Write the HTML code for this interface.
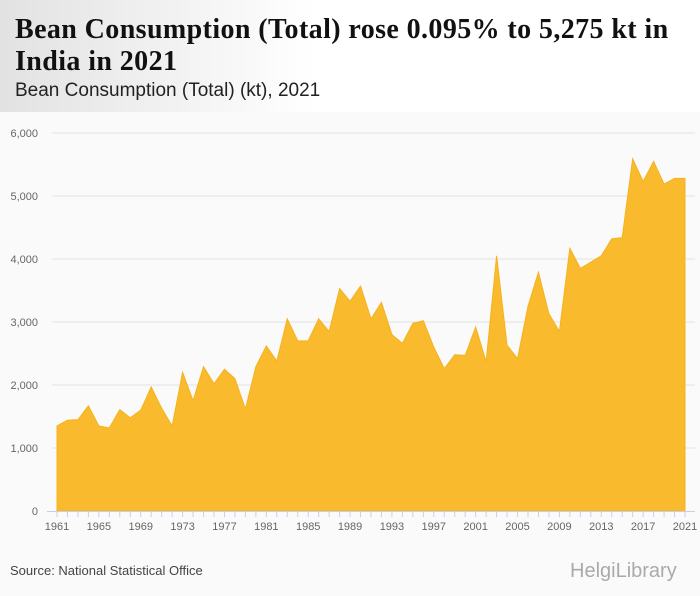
<!DOCTYPE html>
<html><head><meta charset="utf-8"><style>
body{margin:0;width:700px;height:596px;background:#fafafa;font-family:"Liberation Sans",sans-serif;overflow:hidden}
.hdr{position:absolute;left:0;top:0;width:700px;height:112px;background:linear-gradient(90deg,#e2e2e2,#fff 45%);}
h1{position:absolute;left:15px;top:14px;margin:0;font:bold 28px/1.15 "Liberation Serif",serif;letter-spacing:0.4px;color:#111;width:665px}
.sub{position:absolute;left:15px;top:80px;font-size:19px;color:#222}
.src{position:absolute;left:10px;top:563px;font-size:13px;color:#444}
.logo{position:absolute;left:570px;top:560px;font-size:20px;color:#aaa}
</style></head><body>
<div class="hdr"></div>
<h1>Bean Consumption (Total) rose 0.095% to 5,275 kt in India in 2021</h1>
<div class="sub">Bean Consumption (Total) (kt), 2021</div>
<svg id="c" width="700" height="596" style="position:absolute;left:0;top:0"></svg>
<div class="src">Source: National Statistical Office</div>
<div class="logo">HelgiLibrary</div>
<script>
const years=[];for(let y=1961;y<=2021;y++)years.push(y);
const values=[1350,1440,1450,1670,1350,1320,1610,1480,1600,1970,1630,1350,2200,1750,2290,2020,2250,2100,1620,2290,2620,2380,3050,2700,2700,3050,2850,3530,3330,3570,3050,3310,2800,2660,2980,3020,2600,2260,2480,2470,2920,2370,4050,2630,2420,3250,3790,3130,2850,4170,3850,3950,4050,4320,4340,5590,5230,5550,5190,5280,5280];
const yTicks=[0,1000,2000,3000,4000,5000,6000];
const xLabels=[1961,1965,1969,1973,1977,1981,1985,1989,1993,1997,2001,2005,2009,2013,2017,2021];
const NS="http://www.w3.org/2000/svg",svg=document.getElementById('c');
const X=y=>57+(y-1961)*(685-57)/60, Y=v=>511-v*0.063;
function mk(t,a){const e=document.createElementNS(NS,t);for(const k in a)e.setAttribute(k,a[k]);svg.appendChild(e);return e;}
yTicks.forEach(v=>{
 if(v>0){const g=mk('line',{x1:52,x2:695,y1:Y(v),y2:Y(v),stroke:'#e2e2e2'});
 
 }
 const t=mk('text',{x:38,y:Y(v)+4,'text-anchor':'end','font-size':'11',fill:'#666'});t.textContent=v.toLocaleString('en-US');
 
 
});
let d='M'+X(years[0])+','+Y(0);
years.forEach((y,i)=>d+='L'+X(y)+','+Y(values[i]));
d+='L'+X(years[years.length-1])+','+Y(0)+'Z';
const area=mk('path',{d:d,fill:'#f9bb2d',stroke:'#f5b21c','stroke-width':'1'});


const ax=mk('line',{x1:47,x2:695,y1:511.5,y2:511.5,stroke:'#c5d0e6'});


years.forEach(y=>{const tk=mk('line',{x1:X(y),x2:X(y),y1:511,y2:517,stroke:'#c5d0e6'});
 
 });
xLabels.forEach(y=>{const t=mk('text',{x:X(y),y:530,'text-anchor':'middle','font-size':'11',fill:'#666'});t.textContent=y;
 
 });
</script>
</body></html>
